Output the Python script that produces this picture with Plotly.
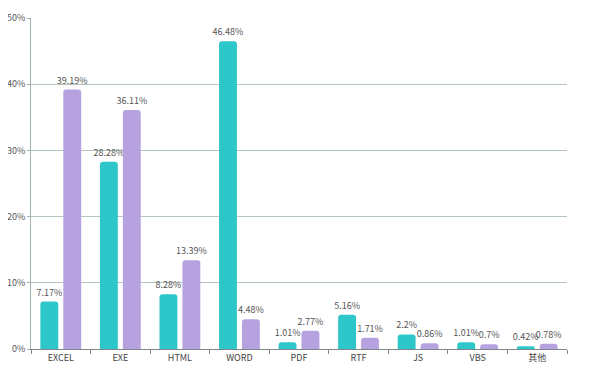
import plotly.graph_objects as go

categories = ["EXCEL", "EXE", "HTML", "WORD", "PDF", "RTF", "JS", "VBS", "其他"]
series_a = [7.17, 28.28, 8.28, 46.48, 1.01, 5.16, 2.2, 1.01, 0.42]
series_b = [39.19, 36.11, 13.39, 4.48, 2.77, 1.71, 0.86, 0.7, 0.78]
y_ticks = [0, 10, 20, 30, 40, 50]
y_tick_labels = ["0%", "10%", "20%", "30%", "40%", "50%"]

font_family = "Noto Sans CJK SC, Noto Sans, sans-serif"

fig = go.Figure()
for vals, color in [(series_a, "#2EC7C9"), (series_b, "#B6A2DE")]:
    fig.add_trace(go.Bar(
        x=categories, y=vals,
        marker=dict(color=color, line=dict(width=0)),
        text=[f"{v}%" for v in vals],
        textposition="outside",
        constraintext="none",
        textfont=dict(size=9, color="#555555", family=font_family),
        cliponaxis=False,
    ))

fig.update_layout(
    width=590, height=362,
    margin=dict(l=23, r=31, t=10, b=21, autoexpand=False),
    paper_bgcolor="white", plot_bgcolor="white",
    showlegend=False,
    barmode="group",
    bargap=0.23, bargroupgap=0.22,
    barcornerradius=3,
    font=dict(family=font_family, size=9, color="#555555"),
)
fig.update_xaxes(
    automargin=False,
    showgrid=False, showline=True, linecolor="#7f8786", linewidth=1,
    ticks="outside", tickson="boundaries", ticklen=4, tickcolor="#7f8786",
    tickfont=dict(size=9, color="#444444"),
)
fig.update_yaxes(
    automargin=False,
    range=[0, 50], tickvals=y_ticks, ticktext=y_tick_labels,
    showgrid=True, gridcolor="#b4c4bf", gridwidth=1,
    showline=True, linecolor="#9fb5ae", linewidth=1,
    ticks="outside", ticklen=3, tickcolor="#9fb5ae",
    tickfont=dict(size=9, color="#555555"),
    zeroline=False,
)

fig.write_html("out.html")
